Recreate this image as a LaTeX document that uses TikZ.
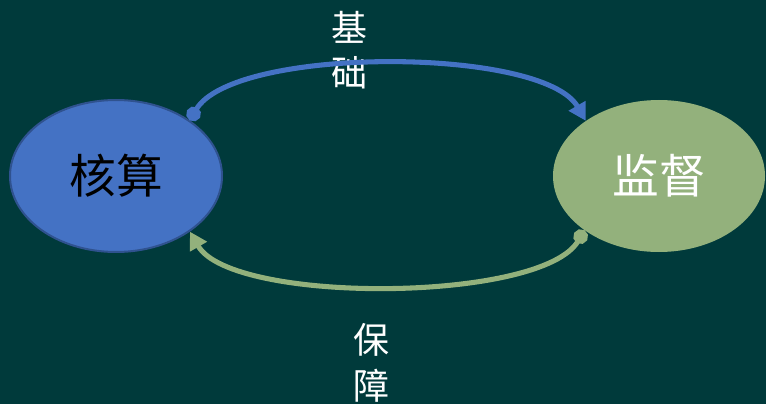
\documentclass[tikz,border=0pt]{standalone}
\usepackage{fontspec}
\setmainfont{Noto Sans CJK SC}
\usetikzlibrary{shapes.geometric,arrows.meta}

\definecolor{bgteal}{HTML}{003A3B}
\definecolor{hsblue}{HTML}{4472C4}
\definecolor{hsedge}{HTML}{2F528F}
\definecolor{jdgreen}{HTML}{93B17C}

\begin{document}
\begin{tikzpicture}[x=0.75pt,y=0.75pt,
		blob/.style={ellipse, inner sep=0pt, minimum width=159pt, minimum height=114pt, font=\fontsize{35}{40}\selectfont},
		flow/.style={line width=3.8pt, {Circle[length=11pt]}-{Triangle[length=13pt,width=14pt]}},
		tag/.style={text=white, align=center, font=\fontsize{27}{34}\selectfont}]
		\fill[bgteal] (0,0) rectangle (766,404);
		\useasboundingbox (0,0) rectangle (766,404);
		\node[blob, fill=hsblue, draw=hsedge, line width=1.5pt, text=black] (hs) at (116,228) {核算};
		\node[blob, fill=jdgreen, text=white] (jd) at (659,228) {监督};
		\node[tag] (jc) at (349,354) {基\\础};
		\node[tag] (bz) at (371,41) {保\\障};
		% arcs between the two
		\draw[flow, hsblue] (hs.37) .. controls +(60:86) and +(120:86) .. (jd.143);
		\draw[flow, jdgreen] (jd.216) .. controls +(-120:84) and +(-60:84) .. (hs.323);
	\end{tikzpicture}
\end{document}
